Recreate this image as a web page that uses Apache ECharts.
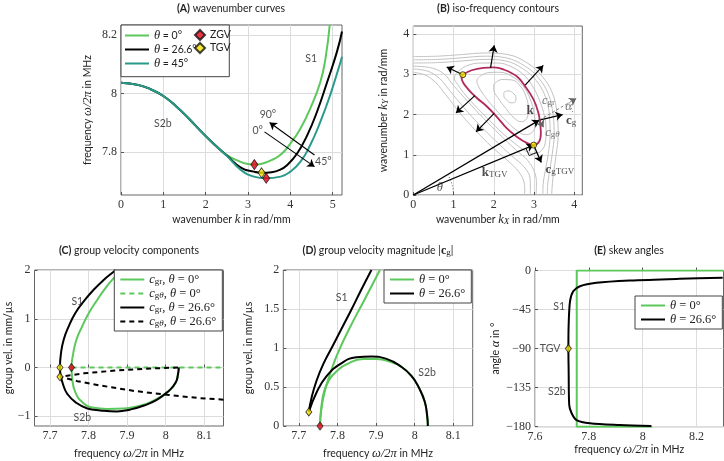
<!DOCTYPE html>
<html><head><meta charset="utf-8">
<script src="https://cdn.jsdelivr.net/npm/echarts@6/dist/echarts.min.js"></script>
<style>html,body{margin:0;padding:0;background:#fff}#c{width:724px;height:461px}</style>
</head><body><div id="c"></div><script>
// ---------------- DATA ----------------
// (A) wavenumber curves: k in rad/mm, f in MHz
const kTheta0  = [0,0.4,0.7,1.0,1.3,1.6,1.9,2.2,2.5,2.8,3.0,3.15,3.3,3.5,3.77,4.0,4.24,4.47,4.71,4.83,4.93];
const fTheta0  = [8.036,8.029,8.014,7.991,7.956,7.914,7.868,7.826,7.789,7.767,7.758,7.756,7.758,7.768,7.790,7.828,7.880,7.948,8.040,8.120,8.234];
const kTheta26 = [0,0.4,0.7,1.0,1.3,1.6,1.9,2.2,2.5,2.83,3.14,3.34,3.55,3.75,3.92,4.16,4.40,4.63,4.87,5.10,5.22];
const fTheta26 = [8.036,8.029,8.014,7.991,7.956,7.914,7.868,7.826,7.787,7.746,7.732,7.728,7.730,7.738,7.754,7.794,7.857,7.937,8.039,8.142,8.212];
const kTheta45 = [0,0.4,0.7,1.0,1.3,1.6,1.9,2.2,2.5,2.83,3.14,3.42,3.77,4.0,4.24,4.47,4.71,4.94,5.18,5.22];
const fTheta45 = [8.036,8.029,8.014,7.991,7.956,7.914,7.868,7.826,7.786,7.738,7.715,7.709,7.715,7.732,7.766,7.823,7.903,7.994,8.105,8.125];
const zgvK = [3.15,3.43], zgvF = [7.756,7.709];
const tgvK = [3.32], tgvF = [7.728];
const labA = ['S1','S2b','90°','0°','45°'];
const labAk = [4.49,0.99,3.47,3.23,4.78];
const labAf = [8.119,7.897,7.928,7.871,7.766];
const arrowsA = [[4.57,7.789,3.51,7.900],[3.39,7.868,4.57,7.749]];

// (B) iso-frequency contours: [kX, kY]
const crimsonLoop = [[1.23,2.99],[1.45,3.10],[1.74,3.16],[2.0,3.17],[2.24,3.12],[2.57,2.95],[2.78,2.70],[2.99,2.37],[3.11,2.04],[3.15,1.79],[3.17,1.54],[3.13,1.33],[2.99,1.24],[2.83,1.29],[2.57,1.45],[2.32,1.66],[2.07,1.95],[1.83,2.20],[1.58,2.41],[1.37,2.62],[1.24,2.79],[1.20,2.91],[1.23,2.99]];
const grayLoop1 = [[2.25,2.55],[2.35,2.59],[2.47,2.54],[2.55,2.42],[2.53,2.31],[2.43,2.29],[2.31,2.37],[2.25,2.47],[2.25,2.55]];
const grayLoop2 = [[2.0,2.75],[2.2,2.87],[2.45,2.86],[2.65,2.72],[2.80,2.45],[2.86,2.15],[2.82,1.90],[2.68,1.82],[2.5,1.92],[2.3,2.15],[2.1,2.42],[2.0,2.62],[2.0,2.75]];
const grayLoop3 = [[1.62,2.92],[1.85,3.04],[2.15,3.05],[2.45,2.95],[2.72,2.72],[2.90,2.40],[3.0,2.05],[3.03,1.75],[2.95,1.55],[2.78,1.5],[2.55,1.62],[2.3,1.85],[2.05,2.12],[1.8,2.42],[1.62,2.7],[1.58,2.85],[1.62,2.92]];
const grayLoop4 = [[1.05,3.0],[1.3,3.2],[1.7,3.28],[2.1,3.28],[2.45,3.18],[2.75,2.98],[2.98,2.68],[3.15,2.32],[3.26,1.95],[3.3,1.6],[3.28,1.3],[3.18,1.1],[3.0,1.03],[2.78,1.1],[2.5,1.3],[2.2,1.55],[1.9,1.85],[1.6,2.15],[1.3,2.48],[1.1,2.75],[1.02,2.9],[1.05,3.0]];
const grayBandAout = [[0,3.28],[0.6,3.29],[1.2,3.33],[1.8,3.37],[2.3,3.33],[2.72,3.14],[3.05,2.85],[3.28,2.45],[3.38,2.0],[3.4,1.5],[3.35,1.0],[3.28,0.6],[3.23,0.3],[3.22,0]];
const grayBandAin  = [[0,3.2],[0.4,3.17],[0.75,3.02],[1.0,2.72],[1.35,2.33],[1.75,1.9],[2.15,1.5],[2.55,1.12],[2.85,0.85],[3.02,0.55],[3.06,0.25],[3.05,0]];
const grayBandBout = [[0,3.36],[0.6,3.37],[1.2,3.41],[1.8,3.45],[2.3,3.41],[2.78,3.2],[3.12,2.9],[3.36,2.5],[3.47,2.02],[3.5,1.5],[3.45,1.0],[3.38,0.55],[3.34,0.25],[3.33,0]];
const grayBandBin  = [[0,3.13],[0.35,3.08],[0.65,2.9],[0.9,2.6],[1.25,2.18],[1.65,1.74],[2.05,1.34],[2.45,0.97],[2.75,0.7],[2.9,0.42],[2.91,0.15],[2.9,0]];
const grayBandCout = [[0,3.44],[0.6,3.45],[1.2,3.49],[1.8,3.53],[2.35,3.49],[2.85,3.27],[3.2,2.95],[3.45,2.55],[3.57,2.05],[3.6,1.5],[3.55,1.0],[3.48,0.5],[3.45,0.2],[3.44,0]];
const grayBandCin  = [[0,3.05],[0.3,2.98],[0.55,2.8],[0.8,2.5],[1.15,2.05],[1.55,1.6],[1.95,1.2],[2.35,0.85],[2.62,0.58],[2.75,0.32],[2.77,0.1],[2.76,0]];
const normalArrowsB = [[1.23,2.99,0.83,3.18],[1.92,3.16,2.01,3.72],[2.78,2.73,3.23,3.22],[1.53,2.47,1.06,2.04],[2.01,2.03,1.56,1.57]];
const vectorsB = [[0,0,3.13,1.86],[3.13,1.86,3.71,2.0],[0,0,2.99,1.24],[2.99,1.24,3.18,0.81]];
const compArrowsB = [[3.13,1.86,4.05,2.40],[3.13,1.86,3.24,1.68]];
const alphaArc = [[3.86,2.29],[3.92,2.18],[3.96,2.06]];
const thetaArc = [[0.857,0.515],[0.94,0.342],[0.985,0.174],[1.0,0]];
const rightAngle = [[2.80,1.16],[2.88,0.98],[3.07,1.06]];
const tgvPtsBx = [1.23,2.99], tgvPtsBy = [2.99,1.24];
const labB = ['{kb|k}','{kb|c}{sr|g}','{mg|c}{srg|gr}','{mg|c}{srg|g}{sig|θ}','{mg|α}','{kb|k}{sr|TGV}','{kb|c}{sr|gTGV}','{m|θ}'];
const labBx = [2.90,3.92,3.36,3.46,3.86,2.02,3.64,0.66];
const labBy = [2.10,1.84,2.34,1.54,2.20,0.56,0.62,0.17];

// (C) group velocity components: f in MHz, v in mm/us
const cgr0F  = [7.885,7.866,7.844,7.823,7.801,7.784,7.769,7.760,7.756,7.758,7.766,7.784,7.810,7.849,7.892,7.926,7.961,8.004,8.026,8.032,8.034];
const cgr0V  = [2.0,1.84,1.63,1.39,1.12,0.85,0.58,0.27,0,-0.24,-0.51,-0.71,-0.82,-0.85,-0.84,-0.80,-0.71,-0.51,-0.31,-0.14,0];
const cgt0F  = [7.756,8.15];
const cgt0V  = [0,0];
const cgr26F = [7.870,7.866,7.840,7.814,7.788,7.766,7.749,7.736,7.729,7.726,7.728,7.735,7.745,7.766,7.797,7.831,7.874,7.909,7.944,7.978,8.008,8.026,8.032,8.034];
const cgr26V = [2.0,1.97,1.80,1.60,1.36,1.12,0.85,0.58,0.31,0,-0.17,-0.37,-0.54,-0.71,-0.84,-0.88,-0.90,-0.86,-0.78,-0.66,-0.48,-0.31,-0.14,0];
const cgt26F = [8.15,8.09,8.004,7.918,7.831,7.771,7.726,7.788,7.874,7.961,8.034];
const cgt26V = [-0.66,-0.63,-0.56,-0.48,-0.37,-0.28,-0.19,-0.12,-0.06,-0.02,0];
const tgvCf = [7.726,7.726], tgvCv = [0,-0.19];
const zgvCf = [7.756], zgvCv = [0];
const labC = ['S1','S2b'], labCf = [7.771,7.784], labCv = [1.36,-1.02];

// (D) group velocity magnitude
const cg0S1F  = [7.755,7.758,7.766,7.780,7.798,7.832,7.868,7.910];
const cg0S1V  = [0,0.20,0.42,0.65,0.90,1.26,1.60,2.0];
const cg0S2F  = [7.755,7.758,7.766,7.780,7.800,7.823,7.867,7.901,7.944,7.962,7.992,8.013,8.026,8.032,8.034];
const cg0S2V  = [0,0.22,0.45,0.60,0.71,0.79,0.86,0.86,0.81,0.77,0.64,0.47,0.31,0.14,0];
const cg26S1F = [7.726,7.733,7.746,7.764,7.786,7.810,7.836,7.862,7.888];
const cg26S1V = [0.18,0.36,0.58,0.80,1.01,1.24,1.49,1.75,2.0];
const cg26S2F = [7.726,7.746,7.772,7.806,7.849,7.888,7.927,7.962,7.992,8.013,8.026,8.032,8.034];
const cg26S2V = [0.18,0.43,0.64,0.79,0.88,0.89,0.86,0.77,0.64,0.47,0.31,0.14,0];
const tgvDf = [7.726], tgvDv = [0.18];
const zgvDf = [7.755], zgvDv = [0];
const labD = ['S1','S2b'], labDf = [7.811,8.032], labDv = [1.64,0.69];

// (E) skew angles
const alpha0F  = [8.3,7.755,7.755,8.035];
const alpha0A  = [0,0,-180,-180];
const alpha26F = [8.297,8.137,7.952,7.828,7.767,7.742,7.730,7.725,7.724,7.725,7.727,7.736,7.754,7.804,7.915,8.032];
const alpha26A = [-8.4,-9.6,-11.6,-14.2,-18.1,-23.9,-35.5,-62.4,-90,-116.4,-154.9,-164.5,-172.3,-176,-178,-179.2];
const tgvEf = [7.724], tgvEa = [-90];
const labE = ['S1','TGV','S2b'], labEf = [7.69,7.656,7.681], labEa = [-41.3,-90,-139.7];

// tick values
const ticksAx = [0,1,2,3,4,5], ticksAy = [7.8,8,8.2];
const ticksB = [0,1,2,3,4];
const ticksFreq = [7.7,7.8,7.9,8,8.1];
const ticksCy = [-1,0,1,2], ticksDy = [0,0.5,1,1.5,2];
const ticksEx = [7.6,7.8,8,8.2], ticksEy = [-180,-135,-90,-45,0];

// ---------------- STYLE ----------------
const GREEN='#5cc85c', TEAL='#2a9a8c', CRIM='#b02a5e', RED='#e60012', YEL='#f5e200', CGRAY='#c2c2c2';
const SANS = "Lato, 'Open Sans', sans-serif";
const SERIF = "'Liberation Serif', 'DejaVu Serif', serif";
const TXT = '#222';
const rich = {
  t:  {fontFamily:SANS, fontSize:10.5, color:TXT},
  b:  {fontFamily:SANS, fontSize:10.5, fontWeight:'bold', color:TXT},
  m:  {fontFamily:SERIF, fontStyle:'italic', fontSize:12.5, color:TXT},
  mg: {fontFamily:SERIF, fontStyle:'italic', fontSize:12.5, color:'#555'},
  n:  {fontFamily:SERIF, fontSize:12.5, color:TXT},
  kb: {fontFamily:SERIF, fontWeight:'bold', fontSize:13, color:TXT},
  mb: {fontFamily:SERIF, fontWeight:'bold', fontSize:12, color:TXT},
  s:  {fontFamily:SERIF, fontStyle:'italic', fontSize:9, color:TXT, verticalAlign:'bottom', lineHeight:4},
  sr: {fontFamily:SERIF, fontSize:9, color:TXT, verticalAlign:'bottom', lineHeight:4},
  srg:{fontFamily:SERIF, fontSize:9, color:'#555', verticalAlign:'bottom', lineHeight:4},
  sig:{fontFamily:SERIF, fontStyle:'italic', fontSize:9, color:'#555', verticalAlign:'bottom', lineHeight:4}
};
const zip = (a,b) => a.map((v,i)=>[v,b[i]]);
const numFmt = v => (v<0?'\u2212':'') + Math.abs(v);

function axis(gi, min, max, ticks, name, gap, split, interval) {
  const a = {
    type:'value', gridIndex:gi, min, max, splitNumber:split,
    axisLine:{show:false},
    axisTick:{show:true, inside:true, length:3, customValues:ticks, lineStyle:{color:'#555'}},
    axisLabel:{customValues:ticks, formatter:numFmt, fontFamily:SERIF, fontSize:12, color:'#333', margin:4},
    splitLine:{show:true, lineStyle:{color:'#dcdcdc', width:1}},
    name, nameLocation:'middle', nameGap:gap,
    nameTextStyle:{fontFamily:SANS, fontSize:10.5, color:TXT, rich}
  };
  if (interval) a.interval = interval;
  return a;
}
function lineS(name, gi, xs, ys, color, extra) {
  return Object.assign({type:'line', name, xAxisIndex:gi, yAxisIndex:gi, data:zip(xs,ys),
    symbol:'none', showSymbol:false, smooth:0.5, silent:true, animation:false,
    lineStyle:{color, width:2}, itemStyle:{color}, z:2}, extra||{});
}
function pairS(gi, pts, color, width, extra) {
  return Object.assign({type:'line', xAxisIndex:gi, yAxisIndex:gi, data:pts,
    symbol:'none', showSymbol:false, smooth:0.4, silent:true, animation:false,
    lineStyle:{color, width}, z:2}, extra||{});
}
function markS(name, gi, xs, ys, symbol, size, color) {
  return {type:'scatter', name, xAxisIndex:gi, yAxisIndex:gi, data:zip(xs,ys), symbol, symbolSize:size,
    itemStyle:{color, borderColor:'#111', borderWidth:0.9}, z:5, silent:true, animation:false};
}
function textS(gi, xs, ys, labels, fontSize) {
  return {type:'scatter', xAxisIndex:gi, yAxisIndex:gi, symbolSize:0, silent:true, animation:false, z:6,
    data: xs.map((x,i)=>({value:[x,ys[i]], name:labels[i]})),
    label:{show:true, position:'inside', formatter:p=>p.name, fontFamily:SANS, fontSize:fontSize||10.5, color:TXT, rich}};
}
function arrowS(gi, segs, color, width, type, arrow) {
  return {type:'lines', coordinateSystem:'cartesian2d', xAxisIndex:gi, yAxisIndex:gi, silent:true, animation:false, z:4,
    symbol:['none', arrow===false?'none':'arrow'], symbolSize:7,
    lineStyle:{color, width, type:type||'solid', opacity:1},
    data: segs.map(s=>({coords:[[s[0],s[1]],[s[2],s[3]]]}))};
}
function polyS(gi, pts, color, width, type) {
  return {type:'lines', coordinateSystem:'cartesian2d', xAxisIndex:gi, yAxisIndex:gi, polyline:true, silent:true, animation:false, z:4,
    lineStyle:{color, width, type:type||'solid', opacity:1}, data:[{coords:pts}]};
}

const grids = [
  {left:121, top:25, width:221, height:170},
  {left:413.3, top:26, width:169, height:169},
  {left:34.5, top:270, width:189, height:157.3},
  {left:283.3, top:270, width:189.4, height:157.3},
  {left:535, top:270.5, width:188.5, height:156.2}
].map(g=>Object.assign({show:true, borderColor:'#555', borderWidth:0.9, backgroundColor:'transparent', containLabel:false}, g));

const FREQ = '{t|frequency }{m|ω/2π}{t| in MHz}';
const xAxis = [
  axis(0, 0, 5.22, ticksAx, '{t|wavenumber }{m|k}{t| in rad/mm}', 18, 5),
  axis(1, 0, 4.2, ticksB, '{t|wavenumber }{m|k}{s|X}{t| in rad/mm}', 18, 5),
  axis(2, 7.66, 8.15, ticksFreq, FREQ, 21, 5),
  axis(3, 7.66, 8.15, ticksFreq, FREQ, 21, 5),
  axis(4, 7.6, 8.3, ticksEx, FREQ, 16, 3)
];
const yAxis = [
  axis(0, 7.652, 8.234, ticksAy, FREQ, 27, 3),
  axis(1, 0, 4.2, ticksB, '{t|wavenumber }{m|k}{s|Y}{t| in rad/mm}', 23, 5),
  axis(2, -1.2, 2, ticksCy, '{t|group vel. in mm/µs}', 18, 3),
  axis(3, 0, 2, ticksDy, '{t|group vel. in mm/µs}', 29, 4),
  axis(4, -180, 0, ticksEy, '{t|angle }{m|α}{t| in °}', 33, 4, 45)
];

const series = [
  // A
  lineS('θ = 0°', 0, kTheta0, fTheta0, GREEN),
  lineS('θ = 26.6°', 0, kTheta26, fTheta26, '#000'),
  lineS('θ = 45°', 0, kTheta45, fTheta45, TEAL),
  markS('ZGV', 0, zgvK, zgvF, 'diamond', [7,10], RED),
  markS('TGV', 0, tgvK, tgvF, 'diamond', [7,10], YEL),
  textS(0, labAk, labAf, labA),
  arrowS(0, arrowsA, '#000', 1.1),
  // B
  pairS(1, grayLoop1, CGRAY, 1), pairS(1, grayLoop2, CGRAY, 1), pairS(1, grayLoop3, CGRAY, 1), pairS(1, grayLoop4, CGRAY, 1),
  pairS(1, grayBandAout, CGRAY, 1), pairS(1, grayBandAin, CGRAY, 1),
  pairS(1, grayBandBout, CGRAY, 1), pairS(1, grayBandBin, CGRAY, 1),
  pairS(1, grayBandCout, CGRAY, 1), pairS(1, grayBandCin, CGRAY, 1),
  pairS(1, crimsonLoop, CRIM, 1.8, {z:3}),
  arrowS(1, normalArrowsB, '#000', 1.2),
  arrowS(1, vectorsB, '#000', 1.3),
  arrowS(1, compArrowsB, '#666', 0.8, [3,2]),
  polyS(1, alphaArc, '#555', 0.8, [1,2]),
  polyS(1, thetaArc, '#333', 0.8, [1,2]),
  polyS(1, rightAngle, '#000', 0.9),
  markS('tgvB', 1, tgvPtsBx, tgvPtsBy, 'circle', 6, YEL),
  textS(1, labBx, labBy, labB),
  // C
  lineS('cgr0', 2, cgr0F, cgr0V, GREEN),
  lineS('cgt0', 2, cgt0F, cgt0V, GREEN, {smooth:false, lineStyle:{color:GREEN, width:2, type:[5,4]}}),
  lineS('cgr26', 2, cgr26F, cgr26V, '#000'),
  lineS('cgt26', 2, cgt26F, cgt26V, '#000', {smooth:false, lineStyle:{color:'#000', width:2, type:[5,4]}}),
  markS('tgvC', 2, tgvCf, tgvCv, 'diamond', [6,8], YEL),
  markS('zgvC', 2, zgvCf, zgvCv, 'diamond', [6,8], RED),
  textS(2, labCf, labCv, labC),
  // D
  lineS('θ = 0°', 3, cg0S1F, cg0S1V, GREEN),
  lineS('θ = 0°', 3, cg0S2F, cg0S2V, GREEN),
  lineS('θ = 26.6°', 3, cg26S1F, cg26S1V, '#000'),
  lineS('θ = 26.6°', 3, cg26S2F, cg26S2V, '#000'),
  markS('tgvD', 3, tgvDf, tgvDv, 'diamond', [6,8], YEL),
  markS('zgvD', 3, zgvDf, zgvDv, 'diamond', [6,8], RED),
  textS(3, labDf, labDv, labD),
  // E
  lineS('θ = 0°', 4, alpha0F, alpha0A, GREEN, {smooth:false}),
  lineS('θ = 26.6°', 4, alpha26F, alpha26A, '#000', {smooth:0.3}),
  markS('tgvE', 4, tgvEf, tgvEa, 'diamond', [6,8], YEL),
  textS(4, labEf, labEa, labE)
];

const thetaFmtSans = n => '{m|θ}{t|' + n.slice(1) + '}';
const thetaFmtSerif = n => '{m|θ}{n|' + n.slice(1) + '}';
const cLeg = {cgr0:'{m|c}{sr|gr}{n|, }{m|θ}{n| = 0°}', cgt0:'{m|c}{sr|g}{s|θ}{n|, }{m|θ}{n| = 0°}',
              cgr26:'{m|c}{sr|gr}{n|, }{m|θ}{n| = 26.6°}', cgt26:'{m|c}{sr|g}{s|θ}{n|, }{m|θ}{n| = 26.6°}'};
const legBase = {orient:'vertical', selectedMode:false, itemWidth:24, itemHeight:10, itemGap:1, z:10,
  itemStyle:{opacity:0}, textStyle:{fontFamily:SANS, fontSize:10.5, color:TXT, rich}};
const legend = [
  Object.assign({}, legBase, {data:['θ = 0°','θ = 26.6°','θ = 45°'], left:124, top:29, padding:0, formatter:thetaFmtSans}),
  Object.assign({}, legBase, {data:['ZGV','TGV'], left:194, top:29, padding:0, itemWidth:10, itemStyle:{}}),
  Object.assign({}, legBase, {data:['cgr0','cgt0','cgr26','cgt26'], left:114.3, top:270, padding:[3,6,3,5],
     borderColor:'#444', borderWidth:1, backgroundColor:'#fff', formatter:n=>cLeg[n]}),
  Object.assign({}, legBase, {data:['θ = 0°','θ = 26.6°'], left:384, top:270, padding:[3,6,3,5],
     borderColor:'#444', borderWidth:1, backgroundColor:'#fff', formatter:thetaFmtSerif}),
  Object.assign({}, legBase, {data:['θ = 0°','θ = 26.6°'], left:635, top:296, padding:[3,6,3,5],
     borderColor:'#444', borderWidth:1, backgroundColor:'#fff', formatter:thetaFmtSerif})
];

const titleStyle = {fontFamily:SANS, fontSize:10.5, fontWeight:'normal', color:TXT, rich};
const title = [
  {text:'{b|(A)} wavenumber curves', left:231, top:3},
  {text:'{b|(B)} iso-frequency contours', left:498, top:3},
  {text:'{b|(C)} group velocity components', left:129, top:245},
  {text:'{b|(D)} group velocity magnitude |{mb|c}{sr|g}|', left:378, top:245},
  {text:'{b|(E)} skew angles', left:629, top:245}
].map(t=>Object.assign({textAlign:'center', padding:0, textStyle:titleStyle}, t));

const chart = echarts.init(document.getElementById('c'));
chart.setOption({
  animation:false, backgroundColor:'#fff',
  title, legend, grid:grids, xAxis, yAxis, series,
  graphic:[{type:'rect', z:1, shape:{x:121, y:25, width:108.3, height:51.7}, style:{fill:'#fff', stroke:'#444', lineWidth:1}}]
});
</script></body></html>
